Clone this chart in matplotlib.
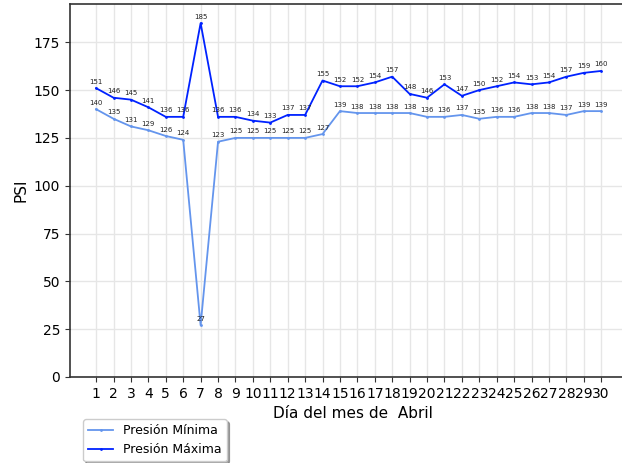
import matplotlib
matplotlib.use("Agg")
import matplotlib.pyplot as plt

# -------------------- DATA --------------------
dias = list(range(1, 31))
presion_min = [140, 135, 131, 129, 126, 124, 27, 123, 125, 125, 125, 125, 125, 127, 139,
               138, 138, 138, 138, 136, 136, 137, 135, 136, 136, 138, 138, 137, 139, 139]
presion_max = [151, 146, 145, 141, 136, 136, 185, 136, 136, 134, 133, 137, 137, 155, 152,
               152, 154, 157, 148, 146, 153, 147, 150, 152, 154, 153, 154, 157, 159, 160]

# -------------------- PLOT --------------------
fig = plt.figure(figsize=(6.22, 4.63), dpi=100)
# axes runs past the right edge like the cropped original
ax = fig.add_axes([70 / 622, 1 - 377 / 463, 566 / 622, 373 / 463])

ax.plot(dias, presion_min, color='cornflowerblue', marker='.', markersize=2,
        linewidth=1.3, label='Presión Mínima')
ax.plot(dias, presion_max, color='#0022ff', marker='.', markersize=2,
        linewidth=1.3, label='Presión Máxima')

for d, v in zip(dias, presion_min):
    ax.annotate(str(v), (d, v), xytext=(0, 2.5), textcoords='offset points',
                ha='center', va='bottom', fontsize=5, color='#222222')
for d, v in zip(dias, presion_max):
    ax.annotate(str(v), (d, v), xytext=(0, 2.5), textcoords='offset points',
                ha='center', va='bottom', fontsize=5, color='#222222')

ax.set_xlim(-0.5, 32)
ax.set_ylim(0, 195)
ax.set_xticks(dias)
ax.set_yticks([0, 25, 50, 75, 100, 125, 150, 175])
ax.tick_params(labelsize=10, color='#333333')
ax.grid(True, color='#e6e6e6', linewidth=1)
ax.set_axisbelow(True)
for s in ax.spines.values():
    s.set_color('#333333')
    s.set_linewidth(1.2)

ax.set_xlabel("Día del mes de  Abril", fontsize=11)
ax.set_ylabel("PSI", fontsize=11)

fig.legend(loc='upper left', bbox_to_anchor=(83 / 622, 1 - 419 / 463),
           fontsize=9, shadow=True, framealpha=1, borderaxespad=0)

fig.savefig("out.png", dpi=100)
